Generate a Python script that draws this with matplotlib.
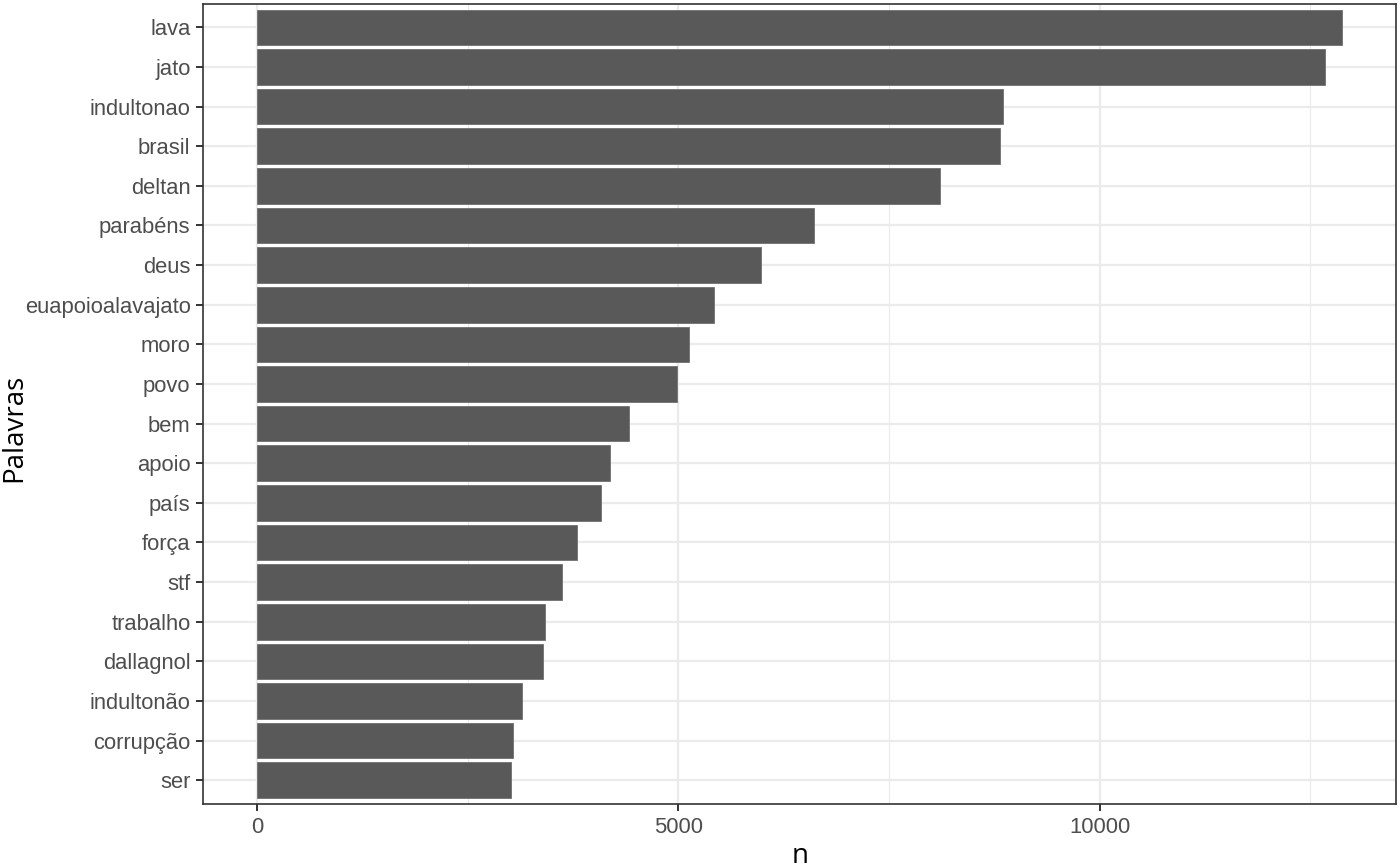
import matplotlib
matplotlib.use("Agg")
import matplotlib.pyplot as plt
from matplotlib.ticker import MultipleLocator

palavras = ['lava', 'jato', 'indultonao', 'brasil', 'deltan', 'parabéns', 'deus',
            'euapoioalavajato', 'moro', 'povo', 'bem', 'apoio', 'país', 'força',
            'stf', 'trabalho', 'dallagnol', 'indultonão', 'corrupção', 'ser']
n = [12874, 12672, 8860, 8824, 8112, 6615, 5986, 5428, 5131, 4988, 4418, 4192,
     4086, 3800, 3622, 3420, 3397, 3147, 3040, 3017]

plt.rcParams['font.family'] = ['Liberation Sans', 'DejaVu Sans']

fig = plt.figure(figsize=(14, 8.68), dpi=100)
ax = fig.add_axes([0.145, 0.0737, 0.852, 0.9222])

pos = list(range(len(palavras)))[::-1]
ax.barh(pos, n, height=0.9, color='#595959', edgecolor='#707070', linewidth=0.6, zorder=3)

ax.set_yticks(pos)
ax.set_yticklabels(palavras)
ax.set_ylim(-0.6, len(palavras) - 0.4)
rng = max(n)
ax.set_xlim(-0.05 * rng, rng * 1.05)
ax.xaxis.set_major_locator(MultipleLocator(5000))
ax.xaxis.set_minor_locator(MultipleLocator(2500))

ax.grid(which='major', color='#EBEBEB', linewidth=1.6, zorder=0)
ax.grid(which='minor', axis='x', color='#EBEBEB', linewidth=0.8, zorder=0)
ax.set_axisbelow(True)

for s in ax.spines.values():
    s.set_color('#333333')
    s.set_linewidth(1.2)

ax.tick_params(axis='both', which='major', length=5, width=1.4, color='#333333',
               labelsize=15.8, labelcolor='#4D4D4D', pad=4)
ax.tick_params(axis='both', which='minor', length=0)

# axis titles placed by hand so they stay inside the figure
titulo = dict(fontsize=20, family=['Open Sans', 'DejaVu Sans'], color='black')
fig.text(0.5715, 1 - 856 / 868, 'n', ha='center', va='center', **titulo)
fig.text(14 / 1400, 1 - 428 / 868, 'Palavras', rotation=90, ha='center', va='center', **titulo)

fig.savefig('out.png', dpi=100)
